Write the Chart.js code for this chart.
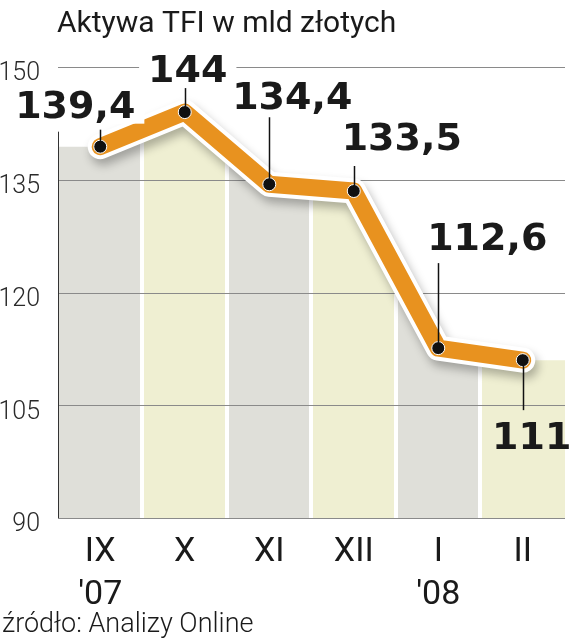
<!DOCTYPE html>
<html lang="pl">
<head>
<meta charset="utf-8">
<title>Aktywa TFI</title>
<script src="https://cdn.jsdelivr.net/npm/chart.js@4.4.1/dist/chart.umd.min.js"></script>
<style>
    html, body { margin: 0; padding: 0; background: #fff; }
    #kontener { width: 574px; height: 640px; }
</style>
</head>
<body>
<div id="kontener"><canvas id="wykres" width="574" height="640"></canvas></div>
<script>
// Dane
const miesiace = [['IX', "'07"], ['X'], ['XI'], ['XII'], ['I', "'08"], ['II']];
const aktywa = [139.4, 144, 134.4, 133.5, 112.6, 111];
const etykiety = ['139,4', '144', '134,4', '133,5', '112,6', '111'];
const podzialkaY = [90, 105, 120, 135, 150];
const tytul = 'Aktywa TFI w mld złotych';
const zrodlo = 'źródło: Analizy Online';

const POMARANCZ = '#e8921f';
const KOLORY_PASKOW = ['#dfdfd9', '#efefd2'];

const punkty = aktywa.map((v, i) => ({ x: i, y: v }));
// obszar pod linią ciągnie się do krawędzi skrajnych kolumn
const obszar = [{ x: -0.5, y: aktywa[0] }, ...punkty, { x: miesiace.length - 0.5, y: aktywa[aktywa.length - 1] }];

/**
 * Naprzemienne kolumny tła jako gradient z twardymi przejściami
 */
function paski(context) {
    const chart = context.chart;
    const { chartArea, scales } = chart;
    if (!chartArea) return null;
    const szer = chartArea.right - chartArea.left;
    const g = chart.ctx.createLinearGradient(chartArea.left, 0, chartArea.right, 0);
    const przerwa = 2;
    const n = miesiace.length;
    const frac = px => Math.max(0, Math.min(1, (px - chartArea.left) / szer));
    miesiace.forEach((m, i) => {
        const kolor = KOLORY_PASKOW[i % 2];
        const a = frac(scales.x.getPixelForValue(i - 0.5) + (i > 0 ? przerwa : 0));
        const b = frac(scales.x.getPixelForValue(i + 0.5) - (i < n - 1 ? przerwa : 0));
        if (i > 0) g.addColorStop(a, '#ffffff');
        g.addColorStop(a, kolor);
        g.addColorStop(b, kolor);
        if (i < n - 1) g.addColorStop(b, '#ffffff');
    });
    return g;
}

const dekoracje = {
    id: 'dekoracje',
    beforeDatasetDraw(chart, args) {
        if (args.index !== 1) return;
        const ctx = chart.ctx;
        ctx.save();
        ctx.shadowColor = 'rgba(0, 0, 0, 0.28)';
        ctx.shadowBlur = 10;
        ctx.shadowOffsetX = 3;
        ctx.shadowOffsetY = 6;
    },
    afterDatasetDraw(chart, args) {
        const { ctx, chartArea, scales: { y } } = chart;
        if (args.index === 1) {
            ctx.restore();
            return;
        }
        if (args.index !== 2) return;
        // linie siatki nad kolumnami
        ctx.save();
        ctx.strokeStyle = '#8a8a8a';
        ctx.lineWidth = 1;
        podzialkaY.forEach(v => {
            const py = Math.round(y.getPixelForValue(v)) + 0.5;
            ctx.beginPath();
            ctx.moveTo(chartArea.left, py);
            ctx.lineTo(chartArea.right, py);
            ctx.stroke();
        });
        // lewa krawędź
        ctx.strokeStyle = '#333';
        const gora = y.getPixelForValue(aktywa[0]) - 15;
        ctx.beginPath();
        ctx.moveTo(chartArea.left + 0.5, gora);
        ctx.lineTo(chartArea.left + 0.5, chartArea.bottom);
        ctx.stroke();
        ctx.restore();
    },
    afterDatasetsDraw(chart) {
        const { ctx, scales: { x, y } } = chart;
        // [przesunięcie x tekstu, linia bazowa, koniec odnośnika] względem punktu
        const uklad = [[-25, -29, -17], [3, -30, -24], [23, -75, -67], [48, -41, -25], [49, -98, -85], [9, 89, 50]];
        ctx.save();
        ctx.font = 'bold 38px "DejaVu Sans"';
        ctx.textAlign = 'center';
        ctx.textBaseline = 'alphabetic';
        aktywa.forEach((v, i) => {
            const px = x.getPixelForValue(i);
            const py = y.getPixelForValue(v);
            const [dx, dy, dl] = uklad[i];
            const tx = px + dx;
            const by = py + dy;
            if (dy < 0) {
                const w = ctx.measureText(etykiety[i]).width;
                ctx.fillStyle = '#fff';
                ctx.fillRect(tx - w / 2 - 9, by - 31, w + 18, 37);
            }
            ctx.strokeStyle = '#111';
            ctx.lineWidth = 1.5;
            ctx.beginPath();
            ctx.moveTo(Math.round(px) + 0.5, py);
            ctx.lineTo(Math.round(px) + 0.5, py + dl);
            ctx.stroke();
            ctx.fillStyle = '#1a1a1a';
            ctx.fillText(etykiety[i], tx, by);
        });
        ctx.restore();
    },
    afterDraw(chart) {
        const { ctx, chartArea } = chart;
        ctx.save();
        ctx.fillStyle = '#1a1a1a';
        ctx.textAlign = 'left';
        ctx.textBaseline = 'alphabetic';
        ctx.font = '400 30px Roboto';
        ctx.fillText(tytul, chartArea.left - 1, 32);
        ctx.font = '300 27px Roboto';
        ctx.fillText(zrodlo, 2, 632);
        ctx.restore();
    }
};

function rysujWykres() {
    const ctx = document.getElementById('wykres').getContext('2d');
    new Chart(ctx, {
        type: 'line',
        data: {
            datasets: [{
                data: punkty,
                borderColor: POMARANCZ,
                borderWidth: 17,
                borderJoinStyle: 'round',
                borderCapStyle: 'round',
                pointRadius: 6.5,
                pointBackgroundColor: '#111',
                pointBorderColor: '#fff',
                pointBorderWidth: 1,
                tension: 0,
                fill: false,
                order: 1
            }, {
                data: punkty,
                borderColor: '#ffffff',
                borderWidth: 25,
                borderJoinStyle: 'round',
                borderCapStyle: 'round',
                pointRadius: 0,
                tension: 0,
                fill: false,
                order: 2
            }, {
                data: obszar,
                borderWidth: 0,
                borderColor: 'rgba(0,0,0,0)',
                backgroundColor: paski,
                pointRadius: 0,
                tension: 0,
                fill: 'start',
                order: 3
            }]
        },
        options: {
            responsive: false,
            animation: false,
            layout: {
                padding: { top: 67, right: 9, left: 0, bottom: 0 }
            },
            plugins: {
                legend: { display: false },
                tooltip: { enabled: false },
                title: { display: false }
            },
            scales: {
                x: {
                    type: 'linear',
                    min: -0.5,
                    max: miesiace.length - 0.5,
                    grid: { display: false },
                    border: { display: false },
                    afterBuildTicks: function (scale) {
                        scale.ticks = miesiace.map((m, i) => ({ value: i }));
                    },
                    afterFit: function (scale) {
                        scale.height = 122;
                    },
                    ticks: {
                        autoSkip: false,
                        maxRotation: 0,
                        padding: 5,
                        color: '#1a1a1a',
                        font: { family: 'Roboto', size: 34, weight: '400', lineHeight: 1.26 },
                        callback: function (value) {
                            return miesiace[value];
                        }
                    }
                },
                y: {
                    min: podzialkaY[0],
                    max: podzialkaY[podzialkaY.length - 1],
                    grid: { display: false },
                    border: { display: false },
                    afterBuildTicks: function (scale) {
                        scale.ticks = podzialkaY.map(v => ({ value: v }));
                    },
                    afterFit: function (scale) {
                        scale.width = 58;
                    },
                    ticks: {
                        padding: 10,
                        labelOffset: 7,
                        color: '#2a2a2a',
                        font: { family: 'Roboto', size: 25, weight: '300' }
                    }
                }
            }
        },
        plugins: [dekoracje]
    });
}

document.addEventListener('DOMContentLoaded', function () {
    Promise.all([
        document.fonts.load('300 24px Roboto'),
        document.fonts.load('400 34px Roboto'),
        document.fonts.load('bold 38px "DejaVu Sans"')
    ]).then(rysujWykres, rysujWykres);
});
</script>
</body>
</html>
